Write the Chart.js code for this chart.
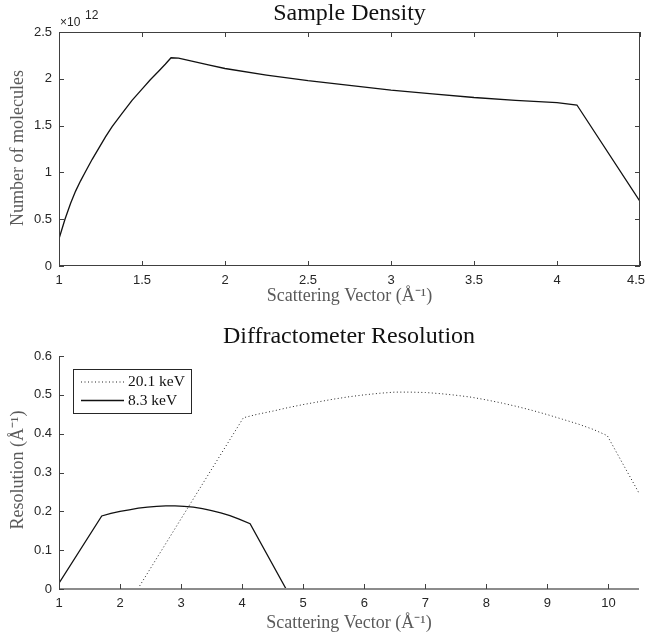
<!DOCTYPE html>
<html>
<head>
<meta charset="utf-8">
<script src="https://cdn.jsdelivr.net/npm/chart.js@4/dist/chart.umd.min.js"></script>
<style>
  html, body { margin: 0; padding: 0; background: #fff; }
  #wrap { position: relative; width: 646px; height: 639px; }
  #wrap canvas { position: absolute; left: 0; }
</style>
</head>
<body>
<div id="wrap">
  <canvas id="densityChart" width="646" height="320" style="top:0"></canvas>
  <canvas id="resolutionChart" width="646" height="319" style="top:320px"></canvas>
</div>
<script>
// Sample density: number of molecules (in units of 10^12) vs scattering vector
const densityQ = [1.00, 1.036, 1.07, 1.10, 1.13, 1.16, 1.20, 1.24, 1.28, 1.32, 1.38, 1.44, 1.50, 1.55, 1.60, 1.64, 1.675, 1.72,
                  1.80, 1.90, 2.00, 2.25, 2.50, 2.75, 3.00, 3.25, 3.50, 3.75, 4.00, 4.12, 4.50];
const densityN = [0.29, 0.50, 0.67, 0.80, 0.91, 1.01, 1.14, 1.26, 1.38, 1.49, 1.63, 1.77, 1.89, 1.99, 2.08, 2.155, 2.225, 2.22,
                  2.19, 2.15, 2.11, 2.04, 1.98, 1.93, 1.88, 1.84, 1.80, 1.77, 1.745, 1.72, 0.69];
const densityTicksX = [1, 1.5, 2, 2.5, 3, 3.5, 4, 4.5];
const densityTicksY = [0, 0.5, 1, 1.5, 2, 2.5];
const densityExponent = '12';

// Diffractometer resolution for two beam energies
const resLabels = ['20.1 keV', '8.3 keV'];
const resQ201 = [2.29, 4.02, 4.25, 4.5, 4.75, 5.0, 5.25, 5.5, 5.75, 6.0, 6.25, 6.5, 6.75, 7.0, 7.25, 7.5,
                 7.75, 8.0, 8.25, 8.5, 8.75, 9.0, 9.25, 9.5, 9.75, 9.98, 10.5];
const res201 = [0.0, 0.441, 0.450, 0.458, 0.467, 0.475, 0.482, 0.489, 0.495, 0.500, 0.504, 0.507, 0.507, 0.506, 0.503, 0.499,
                0.494, 0.487, 0.479, 0.470, 0.460, 0.449, 0.437, 0.425, 0.411, 0.395, 0.247];
const resQ83 = [1.0, 1.7, 1.85, 2.0, 2.15, 2.3, 2.45, 2.6, 2.75, 2.9, 3.05, 3.2, 3.35, 3.5, 3.65, 3.8, 3.95, 4.13, 4.72];
const res83 = [0.015, 0.188, 0.195, 0.200, 0.204, 0.208, 0.211, 0.213, 0.214, 0.214, 0.213, 0.211, 0.207, 0.202, 0.196,
               0.189, 0.180, 0.168, 0.0];
const resTicksX = [1, 2, 3, 4, 5, 6, 7, 8, 9, 10];
const resTicksY = [0, 0.1, 0.2, 0.3, 0.4, 0.5, 0.6];

const SANS = '"Liberation Sans", Arial, sans-serif';
const SERIF = '"Liberation Serif", "Times New Roman", serif';
const TICK_COLOR = '#262626';
const LABEL_COLOR = '#5a5a5a';

const toPoints = (xs, ys) => xs.map((x, i) => ({ x: x, y: ys[i] }));

// draws titles, axis labels, x tick labels, the axis box and inward tick marks
const framePlugin = {
    id: 'frame',
    afterDraw(chart, args, opts) {
        const { ctx, chartArea: a, scales } = chart;
        const xs = scales.x, ys = scales.y;
        ctx.save();

        // axis lines
        ctx.strokeStyle = '#404040';
        ctx.lineWidth = 1;
        if (opts.box) {
            ctx.strokeRect(Math.round(a.left) + 0.5, Math.round(a.top) + 0.5,
                Math.round(a.right - a.left) - 1, Math.round(a.bottom - a.top) - 1);
        } else {
            ctx.beginPath();
            ctx.moveTo(Math.round(a.left) + 0.5, a.top);
            ctx.lineTo(Math.round(a.left) + 0.5, a.bottom);
            ctx.stroke();
            ctx.strokeStyle = '#8c8c8c';
            ctx.lineWidth = 2;
            ctx.beginPath();
            ctx.moveTo(a.left, Math.round(a.bottom));
            ctx.lineTo(a.right, Math.round(a.bottom));
            ctx.stroke();
        }

        // inward ticks
        const tl = 5;
        ctx.strokeStyle = '#404040';
        ctx.lineWidth = 1;
        ctx.beginPath();
        xs.ticks.forEach(t => {
            const px = Math.round(xs.getPixelForValue(t.value)) + 0.5;
            ctx.moveTo(px, a.bottom);
            ctx.lineTo(px, a.bottom - tl);
            if (opts.box) {
                ctx.moveTo(px, a.top);
                ctx.lineTo(px, a.top + tl);
            }
        });
        ys.ticks.forEach(t => {
            const py = Math.round(ys.getPixelForValue(t.value)) + 0.5;
            ctx.moveTo(a.left, py);
            ctx.lineTo(a.left + tl, py);
            if (opts.box) {
                ctx.moveTo(a.right, py);
                ctx.lineTo(a.right - tl, py);
            }
        });
        ctx.stroke();

        // x tick labels, last one kept inside the canvas
        ctx.fillStyle = TICK_COLOR;
        ctx.font = '13px ' + SANS;
        ctx.textAlign = 'center';
        ctx.textBaseline = 'middle';
        xs.ticks.forEach(t => {
            const txt = String(t.value);
            const w = ctx.measureText(txt).width;
            let px = xs.getPixelForValue(t.value);
            px = Math.min(px, chart.width - w / 2 - 1);
            ctx.fillText(txt, px, a.bottom + 14);
        });

        const cx = (a.left + a.right) / 2;
        ctx.textBaseline = 'alphabetic';

        // title
        ctx.fillStyle = '#111';
        ctx.font = '24px ' + SERIF;
        ctx.fillText(opts.title, cx, opts.titleY);

        // x axis label
        ctx.fillStyle = LABEL_COLOR;
        ctx.font = '18px ' + SERIF;
        ctx.fillText(opts.xTitle, cx, opts.xTitleY);

        // y axis label
        ctx.save();
        ctx.translate(23, opts.yTitleY);
        ctx.rotate(-Math.PI / 2);
        ctx.fillText(opts.yTitle, 0, 0);
        ctx.restore();

        // exponent marker
        if (opts.exponent) {
            ctx.fillStyle = TICK_COLOR;
            ctx.textAlign = 'left';
            ctx.font = '12px ' + SANS;
            ctx.fillText('\u00d710', a.left + 1, a.top - 6);
            ctx.fillText(opts.exponent, a.left + 26, a.top - 13);
        }

        // legend box
        if (opts.legend) {
            const lx = a.left + 14, ly = a.top + 13, lw = 118, lh = 44;
            ctx.strokeStyle = '#262626';
            ctx.lineWidth = 1;
            ctx.fillStyle = '#fff';
            ctx.fillRect(lx, ly, lw, lh);
            ctx.strokeRect(Math.round(lx) + 0.5, Math.round(ly) + 0.5, lw, lh);
            ctx.font = '15.5px ' + SERIF;
            ctx.textAlign = 'left';
            ctx.textBaseline = 'middle';
            chart.data.datasets.forEach((ds, i) => {
                const yy = ly + 13 + i * 18.5;
                ctx.strokeStyle = ds.borderColor;
                ctx.lineWidth = ds.borderWidth;
                ctx.setLineDash(ds.borderDash || []);
                ctx.beginPath();
                ctx.moveTo(lx + 8, yy);
                ctx.lineTo(lx + 51, yy);
                ctx.stroke();
                ctx.setLineDash([]);
                ctx.fillStyle = '#111';
                ctx.fillText(ds.label, lx + 55, yy);
            });
        }
        ctx.restore();
    }
};

function fixedX(ticks, max, height) {
    return {
        type: 'linear',
        min: ticks[0],
        max: max,
        afterBuildTicks: s => { s.ticks = ticks.map(v => ({ value: v })); },
        afterFit: s => { s.height = height; s.paddingLeft = 0; s.paddingRight = 0; },
        grid: { display: false, drawTicks: false },
        border: { display: false },
        ticks: { display: false }
    };
}

function fixedY(ticks) {
    return {
        type: 'linear',
        min: ticks[0],
        max: ticks[ticks.length - 1],
        afterBuildTicks: s => { s.ticks = ticks.map(v => ({ value: v })); },
        afterFit: s => { s.width = 59; s.paddingTop = 0; s.paddingBottom = 0; },
        grid: { display: false, drawTicks: false },
        border: { display: false },
        ticks: {
            padding: 7, color: TICK_COLOR, font: { family: SANS, size: 13 }, autoSkip: false,
            callback: v => String(v)
        }
    };
}

new Chart(document.getElementById('densityChart'), {
    type: 'line',
    data: {
        datasets: [{
            label: 'Number of molecules',
            data: toPoints(densityQ, densityN),
            borderColor: '#111',
            borderWidth: 1.3,
            pointRadius: 0,
            tension: 0,
            fill: false
        }]
    },
    options: {
        responsive: false,
        devicePixelRatio: 1,
        animation: false,
        layout: { padding: { top: 32, left: 0, right: 6, bottom: 0 } },
        scales: { x: fixedX(densityTicksX, 4.5, 54), y: fixedY(densityTicksY) },
        plugins: {
            legend: { display: false },
            tooltip: { enabled: false },
            frame: {
                box: true,
                title: 'Sample Density', titleY: 20,
                xTitle: 'Scattering Vector (\u00c5\u207b\u00b9)', xTitleY: 301,
                yTitle: 'Number of molecules', yTitleY: 148,
                exponent: densityExponent
            }
        }
    },
    plugins: [framePlugin]
});

new Chart(document.getElementById('resolutionChart'), {
    type: 'line',
    data: {
        datasets: [{
            label: resLabels[0],
            data: toPoints(resQ201, res201),
            borderColor: '#222',
            borderWidth: 1,
            borderDash: [1, 2.5],
            pointRadius: 0,
            tension: 0,
            fill: false
        }, {
            label: resLabels[1],
            data: toPoints(resQ83, res83),
            borderColor: '#111',
            borderWidth: 1.3,
            pointRadius: 0,
            tension: 0,
            fill: false
        }]
    },
    options: {
        responsive: false,
        devicePixelRatio: 1,
        animation: false,
        layout: { padding: { top: 36, left: 0, right: 7, bottom: 0 } },
        scales: { x: fixedX(resTicksX, 10.5, 50), y: fixedY(resTicksY) },
        plugins: {
            legend: { display: false },
            tooltip: { enabled: false },
            frame: {
                box: false,
                title: 'Diffractometer Resolution', titleY: 23,
                xTitle: 'Scattering Vector (\u00c5\u207b\u00b9)', xTitleY: 308,
                yTitle: 'Resolution (\u00c5\u207b\u00b9)', yTitleY: 150,
                legend: true
            }
        }
    },
    plugins: [framePlugin]
});
</script>
</body>
</html>
